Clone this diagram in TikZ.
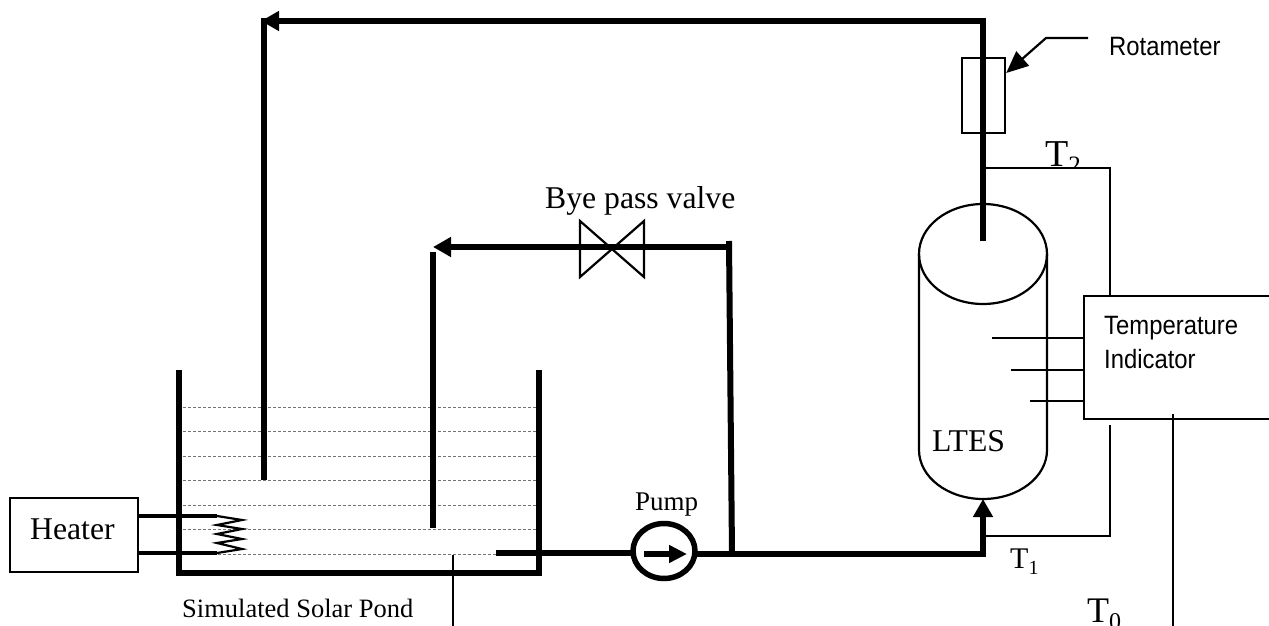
\documentclass[tikz,border=0pt]{standalone}
\usepackage{fontspec}
\setmainfont{Liberation Serif}
\newfontfamily\arialf[FakeStretch=0.9]{Liberation Sans}
\usetikzlibrary{arrows.meta}
\newcommand{\sized}[1]{\fontsize{#1}{#1}\selectfont}
\newcommand{\subidx}[2]{\raisebox{-0.2em}{\sized{#1}#2}}
\tikzset{
  x=1pt,y=-1pt,
  pipe/.style={line width=6pt,line cap=butt},
  pipehead/.style={pipe,-{Triangle[length=18pt,width=19pt]}},
  wire/.style={line width=2.8pt},
  probe/.style={line width=2.4pt},
  outline/.style={line width=2.2pt},
  level/.style={line width=1pt,draw=black!55,dash pattern=on 3pt off 2pt},
  txt/.style={inner sep=0pt,anchor=base west},
  big/.style={txt,font=\sized{31.7}},
  small/.style={txt,font=\sized{27}},
  sans/.style={txt,font=\arialf\sized{26.5}},
  box/.style={draw,outline,inner sep=0pt,minimum width=#1,anchor=north west},
}
\begin{document}
\begin{tikzpicture}
\useasboundingbox (0,0) rectangle (1269,626);
% key points
\coordinate (topL) at (264,21);
\coordinate (topR) at (983,21);
\coordinate (ret) at (264,480);
\coordinate (dip) at (983,241);
\coordinate (junc) at (983,554);
\coordinate (tankB) at (983,499);
\coordinate (t2a) at (983,168);
\coordinate (t2b) at (1110,168);
\coordinate (t2c) at (1110,296);
\coordinate (t1a) at (983,536);
\coordinate (t1b) at (1110,536);
\coordinate (t1c) at (1110,425);
% pond levels
\foreach \yy in {407,431,456,480,505,529}{
  \draw[level] (183,\yy) -- (537,\yy);
}
\draw[level] (183,554) -- (496,554);
% pond walls
\draw[line width=6pt,line join=miter] (179,370) -- (179,573) -- (539,573) -- (539,370);
% heater
\node[box=128pt,minimum height=74pt] (heater) at (9,497) {};
\node[big] (heatertxt) at (30,539) {Heater};
\coordinate (coilA) at (217,516);
\coordinate (coilB) at (217,553);
\draw[line width=3.4pt] (heater.east |- coilA) -- (coilA);
\draw[line width=3.4pt] (heater.east |- coilB) -- (coilB);
\draw[line width=2.2pt,line join=miter] (coilA) -- (242,520) -- (217,525) -- (242,529) -- (217,534) -- (242,539) -- (217,543) -- (242,549) -- (coilB);
% return line
\draw[pipe] (ret) -- (264,18);
\draw[pipe] (dip) -- (topR);
\draw[pipehead] (986,21) -- (261,21);
% rotameter
\node[box=43pt,minimum height=75pt] (rota) at (961,57) {};
\coordinate (lead1) at (1088,38);
\coordinate (lead2) at (1046,38);
\draw[line width=2.2pt,-{Triangle[length=22pt,width=19pt]}] (lead1) -- (lead2) -- (rota.east |- 0,73);
\node[sans] (rotatxt) at (1109,56) {Rotameter};
% tank
\draw[outline] (919,254) -- (919,450) arc[start angle=180,end angle=360,x radius=64,y radius=-49] -- (1047,254);
\draw[outline] (983,254) ellipse[x radius=64,y radius=50];
\draw[pipe] (dip) -- (t2a);
\node[big] (ltes) at (932,451) {LTES};
% bypass
\draw[pipe] (732,554) -- (729,241);
\draw[line width=5.5pt,-{Triangle[length=18pt,width=19pt]}] (732,247) -- (433,247);
\draw[line width=5.5pt] (433,252) -- (433,528);
\draw[line width=2.2pt,line join=miter] (580,221) -- (644,277) -- (644,221) -- (580,277) -- cycle;
\node[big] (bye) at (545,208) {Bye pass valve};
% pump
\coordinate (pumpC) at (664,551);
\draw[pipe] (496,553) -- (636,553);
\draw[pipe] (692,554) -- (junc);
\draw[pipehead] (983,557) -- (tankB);
\draw[line width=5.5pt] (pumpC) ellipse[x radius=31,y radius=27.5];
\draw[line width=6pt,-{Triangle[length=18pt,width=17pt]}] (644,554) -- (687,554);
\node[small] (pump) at (635,510) {Pump};
\node[txt,font=\sized{26.5}] (pond) at (182,617) {Simulated Solar Pond};
\draw[probe] (453,555) -- (453,626);
% indicator
\coordinate (indTL) at (1084,296);
\coordinate (indBL) at (1084,419);
\draw[outline,line join=miter] (1269,296) -- (indTL) -- (indBL) -- (1269,419);
\node[sans] (ind1) at (1104,334) {Temperature};
\node[sans] (ind2) at (1104,368) {Indicator};
\draw[outline] (992,338) -- (indTL |- 0,338);
\draw[outline] (1011,370) -- (indTL |- 0,370);
\draw[outline] (1030,401) -- (indTL |- 0,401);
% thermocouple leads
\draw[wire,line join=miter] (t2a) -- (t2b) -- (t2c);
\draw[wire,line join=miter] (t1a) -- (t1b) -- (t1c);
\draw[probe] (1173,414) -- (1173,626);
% labels
\begin{scope}
  \clip (1030,130) rectangle (1100,166.5);
  \node[txt,font=\sized{38}] (T2) at (1045,166) {T\subidx{25}{2}};
\end{scope}
\node[txt,font=\sized{30}] (T1) at (1010,568) {T\subidx{20}{1}};
\node[txt,font=\sized{36}] (T0) at (1087,622) {T\subidx{24}{0}};
\end{tikzpicture}
\end{document}
